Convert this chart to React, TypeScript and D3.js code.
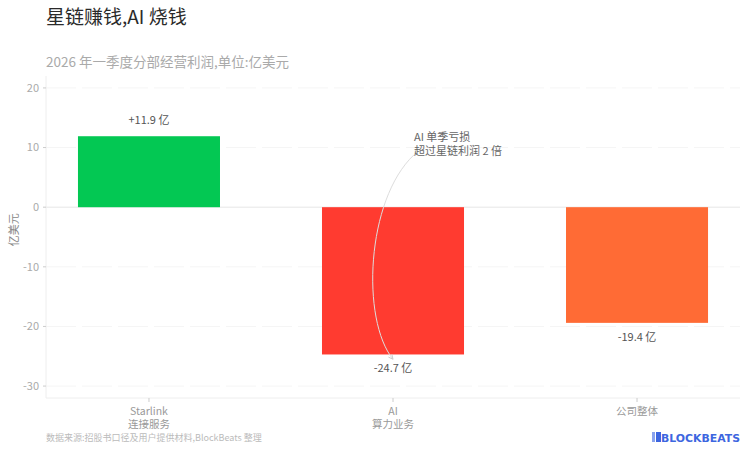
import React from "react";
import * as d3 from "d3";

const categories = ["Starlink\n连接服务", "AI\n算力业务", "公司整体"];
const values = [11.9, -24.7, -19.4];
const valueLabels = ["+11.9 亿", "-24.7 亿", "-19.4 亿"];
const barColors = ["#03C853", "#FF3B30", "#FF6B35"];
const yTicks = [20, 10, 0, -10, -20, -30];
const annotationLines = ["AI 单季亏损", "超过星链利润 2 倍"];

const W = 750;
const H = 456;
const FONT = "'Noto Sans CJK SC', 'Noto Sans', sans-serif";
const left = 46;
const right = 740;
const top = 76;
const bottom = 398;

export default function App() {
  const x = d3.scaleBand<string>().domain(categories).range([left, right]).paddingInner(0.418).paddingOuter(0.131);
  const y = d3.scaleLinear().domain([-32, 22]).range([bottom, top]);
  const bw = x.bandwidth();

  const aiX = x(categories[1])! + bw / 2;
  const annX = aiX + 21;
  const annY = y(11.8);
  const sx = annX;
  const sy = annY + 18;
  const endX = aiX;
  const endY = y(-25.5);
  const p = d3.path();
  p.moveTo(sx, sy);
  p.bezierCurveTo(aiX - 27, y(1.2), aiX - 32, y(-18.9), endX, endY);
  // arrow head
  const ang = Math.atan2(endY - y(-18.9), endX - (aiX - 32));
  const ah = 5;
  const a1 = [endX - ah * Math.cos(ang - 0.45), endY - ah * Math.sin(ang - 0.45)];
  const a2 = [endX - ah * Math.cos(ang + 0.45), endY - ah * Math.sin(ang + 0.45)];

  return (
    <svg width={W} height={H} style={{ position: "absolute", left: 0, top: 0, background: "#fff" }} fontFamily={FONT}>
      <text x={46} y={24} fontSize={19} fontWeight={400} fill="#2a2a2a" fontFamily="'Noto Sans CJK SC', sans-serif">星链赚钱,AI 烧钱</text>
      <text x={46} y={67} fontSize={13.5} fill="#aaa">2026 年一季度分部经营利润,单位:亿美元</text>

      {/* grid */}
      {yTicks.map((t) => (
        <line key={"g" + t} x1={left} x2={right} y1={y(t)} y2={y(t)} stroke={t === 0 ? "#e6e6e6" : "#f5f5f5"} strokeWidth={1} strokeDasharray={t === 0 ? undefined : "30 6"} />
      ))}
      {/* axes */}
      <line x1={left} x2={left} y1={top} y2={bottom} stroke="#eeeeee" />
      <line x1={left} x2={right} y1={bottom} y2={bottom} stroke="#eeeeee" />
      {yTicks.map((t) => (
        <g key={"t" + t}>
          <line x1={left - 3} x2={left} y1={y(t)} y2={y(t)} stroke="#ccc" />
          <text x={left - 7} y={y(t)} dy="0.35em" textAnchor="end" fontSize={11} fill="#aaa">{t}</text>
        </g>
      ))}
      <text transform={`translate(14, ${y(-3.8)}) rotate(-90)`} textAnchor="middle" dy="0.35em" fontSize={11} fill="#888">亿美元</text>

      {/* bars */}
      {categories.map((c, i) => (
        <rect key={c} x={x(c)} width={bw} y={y(Math.max(0, values[i]))} height={Math.abs(y(values[i]) - y(0))} fill={barColors[i]} />
      ))}

      {/* value labels */}
      {categories.map((c, i) => (
        <text key={"v" + c} x={x(c)! + bw / 2} y={values[i] >= 0 ? y(values[i]) - 12 : y(values[i]) + 18} textAnchor="middle" fontSize={11} fill="#555">{valueLabels[i]}</text>
      ))}

      {/* x labels */}
      {categories.map((c) => (
        <g key={"x" + c}>
          <line x1={x(c)! + bw / 2} x2={x(c)! + bw / 2} y1={bottom} y2={bottom + 4} stroke="#ccc" />
          {c.split("\n").map((line, j) => (
            <text key={j} x={x(c)! + bw / 2} y={bottom + 17 + j * 13} textAnchor="middle" fontSize={10.5} fill="#999">{line}</text>
          ))}
        </g>
      ))}

      {/* annotation */}
      {annotationLines.map((l, j) => (
        <text key={"a" + j} x={annX} y={annY + j * 14} dy="0.35em" fontSize={11} fill="#666">{l}</text>
      ))}
      <path d={p.toString()} fill="none" stroke="#dddddd" strokeWidth={1} />
      <path d={`M${a1[0]},${a1[1]}L${endX},${endY}L${a2[0]},${a2[1]}`} fill="none" stroke="#cccccc" strokeWidth={1} />

      {/* footer */}
      <text x={46} y={441} fontSize={9} fill="#bbb">数据来源:招股书口径及用户提供材料,BlockBeats 整理</text>
      <g>
        <rect x={652} y={432} width={3} height={10} fill="#8aa3ee" />
        <rect x={656} y={432} width={5} height={10} fill="#3d66e0" />
        <text x={661} y={441.5} fontSize={11} fontWeight="bold" fill="#3d66e0" fontFamily="'DejaVu Sans', sans-serif" textLength={79} lengthAdjust="spacingAndGlyphs">BLOCKBEATS</text>
      </g>
    </svg>
  );
}
